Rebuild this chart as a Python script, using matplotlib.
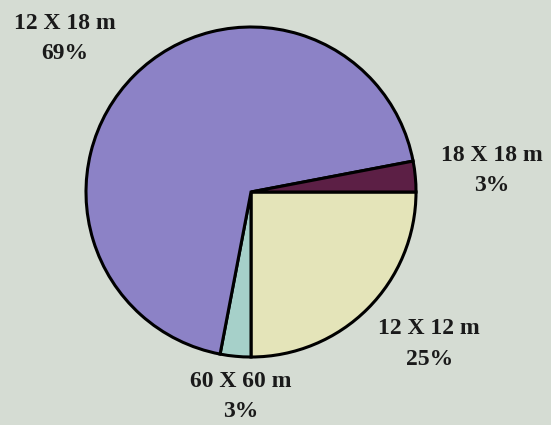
import matplotlib
matplotlib.use("Agg")
import matplotlib.pyplot as plt

# plot sizes, drawn clockwise from 3 o'clock
sizes = ["12 X 12 m", "60 X 60 m", "12 X 18 m", "18 X 18 m"]
shares = [25, 3, 69, 3]
colors = ["#e4e4b9", "#a6d0c9", "#8c82c6", "#5c1f45"]

# label anchors (data units, pie radius = 1)
label_pos = [(1.08, -0.92), (-0.06, -1.24), (-1.13, 0.93), (1.46, 0.13)]

BG = "#d5dcd3"
fig = plt.figure(figsize=(5.51, 4.25), dpi=100, facecolor=BG)
R = 165
ax = fig.add_axes([(251 - R) / 551, (233 - R) / 425, 2 * R / 551, 2 * R / 425])
ax.set_facecolor(BG)

ax.pie(shares, colors=colors, startangle=0, counterclock=False, radius=1,
       wedgeprops=dict(edgecolor="black", linewidth=2.2))
ax.set_xlim(-1, 1); ax.set_ylim(-1, 1)
ax.axis("off")

for name, pct, (x, y) in zip(sizes, shares, label_pos):
    ax.text(x, y, f"{name}\n{pct}%", ha="center", va="center",
            family="Liberation Serif", weight="bold", fontsize=17,
            linespacing=1.6, color="#1a1a1a", clip_on=False)

fig.savefig("out.png", dpi=100, facecolor=BG)
